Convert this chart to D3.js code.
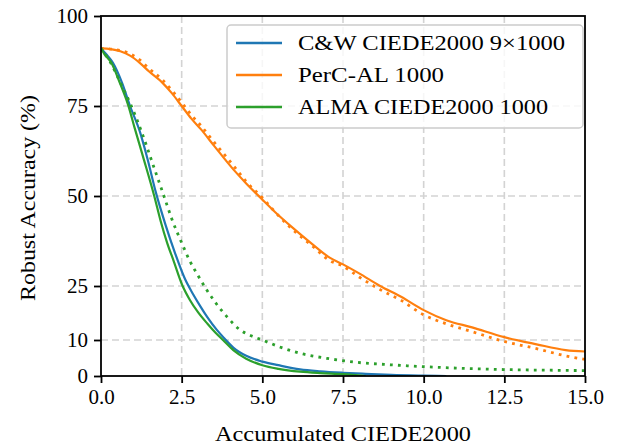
<!DOCTYPE html>
<html>
<head>
<meta charset="utf-8">
<script src="https://cdn.jsdelivr.net/npm/d3@7"></script>
<style>
  body { margin: 0; background: #fff; }
  text { font-family: "Liberation Serif", serif; fill: #000; }
</style>
</head>
<body>
<div id="chart-area"></div>
<script>
// Constants
const MARGIN = { LEFT: 101, RIGHT: 33, TOP: 16, BOTTOM: 70 };
const WIDTH = 618 - MARGIN.LEFT - MARGIN.RIGHT;
const HEIGHT = 446 - MARGIN.TOP - MARGIN.BOTTOM;

// Data
const xTicks = [0, 2.5, 5, 7.5, 10, 12.5, 15];
const yTicks = [0, 10, 25, 50, 75, 100];

const cwX = [0, 0.15, 0.37, 0.65, 0.9, 1.2, 1.45, 1.7, 2.0, 2.3, 2.6, 2.85, 3.07, 3.3, 3.59, 3.84, 4.1, 4.5, 5.0, 5.5, 6.17, 6.8, 7.5, 8.2, 9.0, 10.0, 10.7];
const cwY = [91, 89.5, 87, 81.5, 75, 68, 60, 51, 42, 34, 27, 22.8, 19.5, 16.3, 12.8, 10.3, 7.9, 5.6, 4.0, 3.0, 1.85, 1.3, 0.9, 0.6, 0.3, 0.1, 0];

const percX = [0, 0.3, 0.6, 0.9, 1.2, 1.5, 1.9, 2.2, 2.5, 2.8, 3.1, 3.5, 4.1, 4.5, 5.0, 5.4, 5.9, 6.5, 7.1, 7.5, 8.0, 8.65, 9.3, 10.0, 10.7, 11.5, 12.5, 13.5, 14.4, 15.0];
const percY = [91, 90.8, 90.2, 89, 87, 84.5, 81.5, 78.5, 75, 71.5, 68.5, 64, 57.4, 53.5, 49, 45.5, 41.5, 37, 32.8, 31.0, 28.5, 25, 22, 18.3, 15.5, 13.5, 10.8, 8.8, 7.2, 6.8];
const percDotY = [91, 90.8, 90.4, 89.5, 87.8, 85.3, 82.3, 79.3, 76, 72.5, 69.5, 65, 58.5, 54, 49.5, 45.5, 41, 36.5, 32, 30.5, 27.5, 24, 21, 17, 14.5, 12.3, 9.6, 7.6, 5.6, 4.6];

const almaX = [0, 0.1, 0.32, 0.58, 0.84, 1.04, 1.3, 1.65, 1.85, 2.05, 2.25, 2.53, 2.75, 3.0, 3.3, 3.55, 3.78, 4.1, 4.5, 5.0, 5.5, 6.17, 6.8, 7.5, 8.2];
const almaY = [91, 89.5, 87, 81.5, 75.3, 69, 61, 50, 43, 37, 32, 25, 21.2, 17.8, 14.5, 12.0, 10, 7.2, 4.8, 3.0, 2.0, 1.2, 0.8, 0.5, 0];

const almaDotX = [0, 0.3, 0.6, 0.94, 1.25, 1.6, 1.95, 2.2, 2.5, 2.75, 3.0, 3.27, 3.53, 3.9, 4.31, 4.65, 5.0, 5.5, 6.17, 7.0, 7.92, 9.0, 10.0, 11.0, 12.0, 13.0, 14.0, 15.0];
const almaDotY = [91, 87, 81.5, 75, 68, 59, 50, 43.5, 37, 32, 28, 24, 20.6, 16.5, 12.8, 11.2, 10, 8.2, 6.3, 4.9, 3.8, 3.1, 2.6, 2.2, 1.9, 1.7, 1.6, 1.5];

const legendLabels = ['C&W CIEDE2000 9×1000', 'PerC-AL 1000', 'ALMA CIEDE2000 1000'];
const colors = ['#1f77b4', '#ff7f0e', '#2ca02c'];

// SVG
const svg = d3.select('#chart-area')
    .append('svg')
    .attr('width', 618)
    .attr('height', 446);

const g = svg.append('g')
    .attr('transform', `translate(${MARGIN.LEFT}, ${MARGIN.TOP})`);

const x = d3.scaleLinear().domain([0, 15]).range([0, WIDTH]);
const y = d3.scaleLinear().domain([0, 100]).range([HEIGHT, 0]);

// Grid
g.append('g').selectAll('line')
    .data(xTicks.slice(1, -1))
    .enter().append('line')
    .attr('x1', d => x(d)).attr('x2', d => x(d))
    .attr('y1', 0).attr('y2', HEIGHT)
    .attr('stroke', '#d3d3d3').attr('stroke-width', 1.6)
    .attr('stroke-dasharray', '7,4');

g.append('g').selectAll('line')
    .data(yTicks.slice(1, -1))
    .enter().append('line')
    .attr('x1', 0).attr('x2', WIDTH)
    .attr('y1', d => y(d)).attr('y2', d => y(d))
    .attr('stroke', '#d3d3d3').attr('stroke-width', 1.6)
    .attr('stroke-dasharray', '7,4');

// Lines
svg.append('defs').append('clipPath').attr('id', 'clip')
    .append('rect').attr('width', WIDTH).attr('height', HEIGHT);

const line = d3.line()
    .x(d => x(d[0]))
    .y(d => y(d[1]))
    .curve(d3.curveMonotoneX);

const series = [
    { xs: cwX, ys: cwY, c: colors[0], dot: false },
    { xs: percX, ys: percY, c: colors[1], dot: false },
    { xs: almaX, ys: almaY, c: colors[2], dot: false },
    { xs: percX, ys: percDotY, c: colors[1], dot: true },
    { xs: almaDotX, ys: almaDotY, c: colors[2], dot: true }
];

const lines = g.append('g').attr('clip-path', 'url(#clip)');
series.forEach(s => {
    lines.append('path')
        .datum(d3.zip(s.xs, s.ys))
        .attr('d', line)
        .attr('fill', 'none')
        .attr('stroke', s.c)
        .attr('stroke-width', s.dot ? 2.8 : 2.2)
        .attr('stroke-dasharray', s.dot ? '2.8,5.2' : null)
        .attr('stroke-linejoin', 'round');
});

// Frame
g.append('rect')
    .attr('width', WIDTH).attr('height', HEIGHT)
    .attr('fill', 'none').attr('stroke', '#000').attr('stroke-width', 1.8);

// Axes
const xAxis = g.append('g')
    .attr('transform', `translate(0, ${HEIGHT})`)
    .call(d3.axisBottom(x).tickValues(xTicks).tickFormat(d3.format('.1f')).tickSize(7).tickPadding(6));
const yAxis = g.append('g')
    .call(d3.axisLeft(y).tickValues(yTicks).tickSize(7).tickPadding(6));

[xAxis, yAxis].forEach(a => {
    a.select('.domain').remove();
    a.selectAll('line').attr('stroke', '#000').attr('stroke-width', 1.8);
    a.selectAll('text').attr('font-size', 21).attr('font-family', '"Liberation Serif", serif');
});

// Axis titles
svg.append('text')
    .attr('x', MARGIN.LEFT + WIDTH / 2)
    .attr('y', 441)
    .attr('text-anchor', 'middle')
    .attr('font-size', 21)
    .attr('textLength', 256)
    .attr('lengthAdjust', 'spacingAndGlyphs')
    .text('Accumulated CIEDE2000');

svg.append('text')
    .attr('transform', `translate(35, ${MARGIN.TOP + HEIGHT / 2 + 2}) rotate(-90)`)
    .attr('text-anchor', 'middle')
    .attr('font-size', 21)
    .attr('textLength', 206)
    .attr('lengthAdjust', 'spacingAndGlyphs')
    .text('Robust Accuracy (%)');

// Legend
const legend = svg.append('g');
legend.append('rect')
    .attr('x', 227).attr('y', 25)
    .attr('width', 356).attr('height', 103)
    .attr('rx', 4)
    .attr('fill', 'rgba(255,255,255,0.8)')
    .attr('stroke', '#cccccc').attr('stroke-width', 1.5);

const legendWidths = [267, 146, 250];
legendLabels.forEach((label, i) => {
    const ly = 43 + i * 32;
    legend.append('line')
        .attr('x1', 236).attr('x2', 282)
        .attr('y1', ly).attr('y2', ly)
        .attr('stroke', colors[i]).attr('stroke-width', 2.4);
    legend.append('text')
        .attr('x', 298).attr('y', ly + 7)
        .attr('font-size', 21)
        .attr('textLength', legendWidths[i])
        .attr('lengthAdjust', 'spacingAndGlyphs')
        .text(label);
});
</script>
</body>
</html>
